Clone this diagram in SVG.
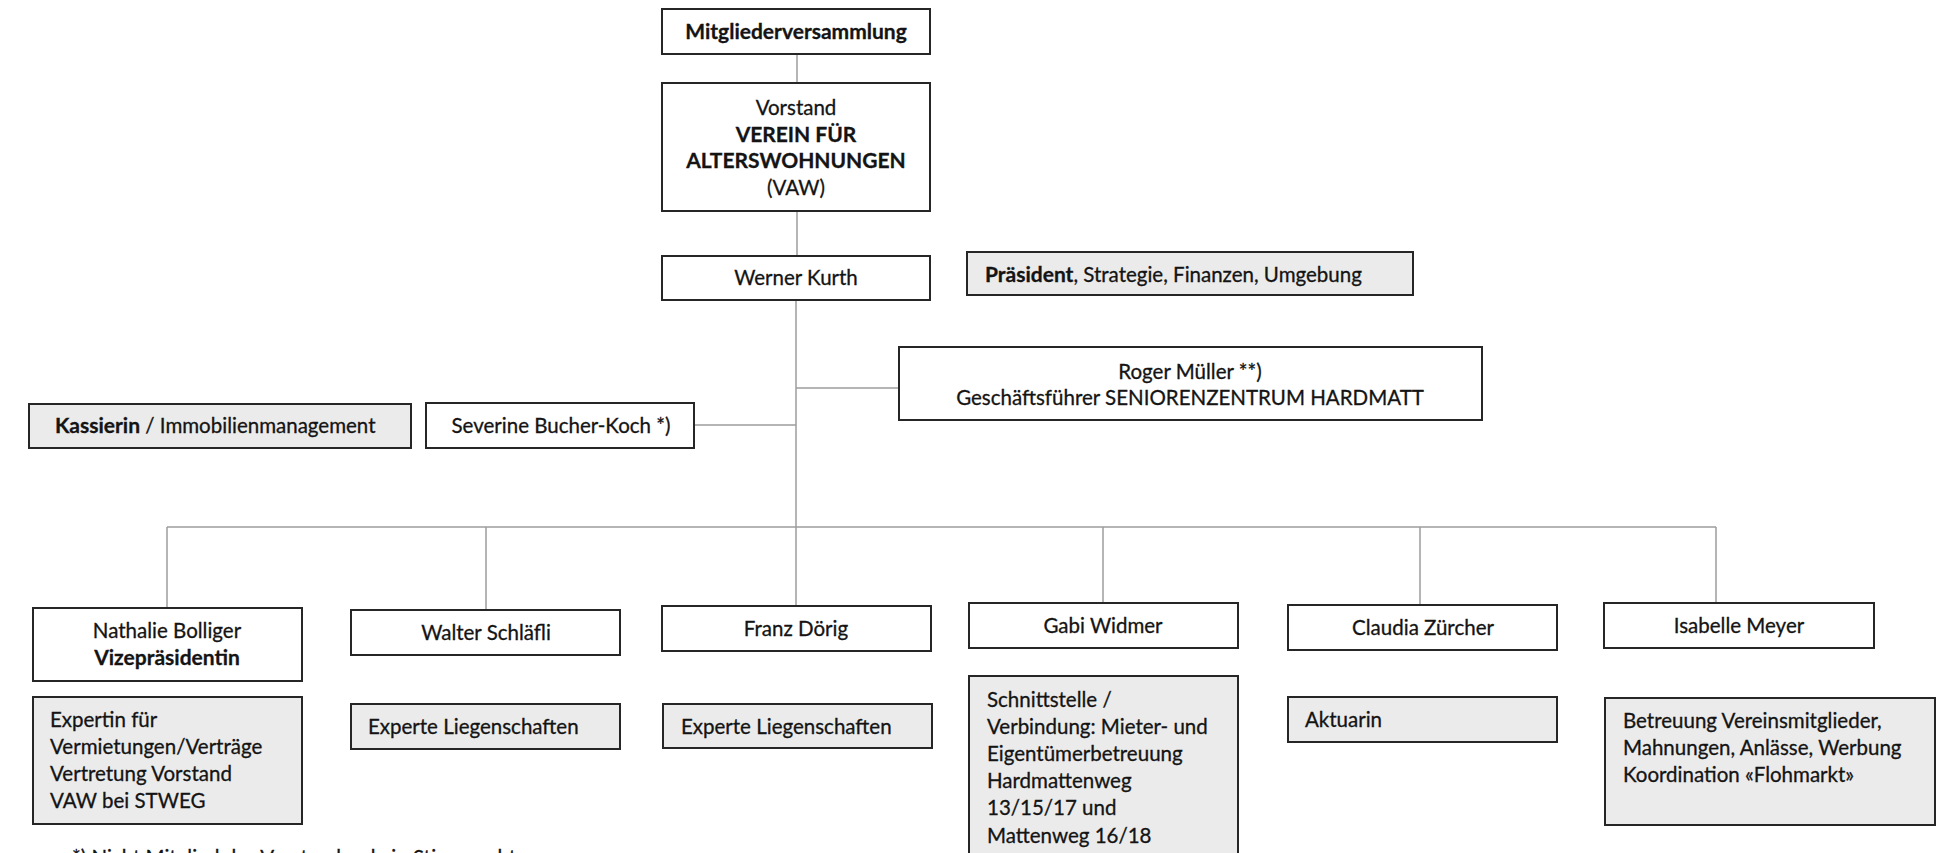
<svg xmlns="http://www.w3.org/2000/svg" width="1937" height="853" viewBox="0 0 1937 853">
<style>
.bg{fill:#fff}
.box{fill:#fff;stroke:#262626;stroke-width:2}
.grey{fill:#ebebeb;stroke:#262626;stroke-width:2}
.t{font-family:Lato,"Open Sans","Liberation Sans",sans-serif;font-size:20.5px;fill:#141414;stroke:#141414;stroke-width:0.3}
.c{text-anchor:middle}
.b{font-weight:bold;font-size:21px}
.conn line{stroke:#9c9c9c;stroke-width:1.5}
</style>
<rect class="bg" x="0" y="0" width="1937" height="853"/>
<g id="connectors" class="conn">
<line x1="797" y1="54" x2="797" y2="83"/>
<line x1="797" y1="211" x2="797" y2="256"/>
<line x1="796" y1="300" x2="796" y2="606"/>
<line x1="694" y1="425" x2="796" y2="425"/>
<line x1="796" y1="388" x2="899" y2="388"/>
<line x1="167" y1="527" x2="1716" y2="527"/>
<line x1="167" y1="527" x2="167" y2="608"/>
<line x1="486" y1="527" x2="486" y2="610"/>
<line x1="1103" y1="527" x2="1103" y2="603"/>
<line x1="1420" y1="527" x2="1420" y2="605"/>
<line x1="1716" y1="527" x2="1716" y2="603"/>
</g>
<g id="mitgliederversammlung">
<rect class="box" x="662" y="9" width="268" height="45"/>
<text class="t c b" x="796" y="39">Mitgliederversammlung</text>
</g>
<g id="vorstand">
<rect class="box" x="662" y="83" width="268" height="128"/>
<text class="t c" x="796" y="115">Vorstand</text>
<text class="t c b" x="796" y="142">VEREIN FÜR</text>
<text class="t c b" x="796" y="168">ALTERSWOHNUNGEN</text>
<text class="t c" x="796" y="195">(VAW)</text>
</g>
<g id="werner-kurth">
<rect class="box" x="662" y="256" width="268" height="44"/>
<text class="t c" x="796" y="285">Werner Kurth</text>
</g>
<g id="praesident">
<rect class="grey" x="967" y="252" width="446" height="43"/>
<text class="t" x="985" y="282"><tspan class="b">Präsident</tspan>, Strategie, Finanzen, Umgebung</text>
</g>
<g id="roger-mueller">
<rect class="box" x="899" y="347" width="583" height="73"/>
<text class="t c" x="1190" y="379">Roger Müller **)</text>
<text class="t c" x="1190" y="405">Geschäftsführer SENIORENZENTRUM HARDMATT</text>
</g>
<g id="kassierin">
<rect class="grey" x="29" y="404" width="382" height="44"/>
<text class="t" x="55" y="433"><tspan class="b">Kassierin</tspan> / Immobilienmanagement</text>
</g>
<g id="severine-bucher-koch">
<rect class="box" x="426" y="403" width="268" height="45"/>
<text class="t c" x="561" y="433">Severine Bucher-Koch *)</text>
</g>
<g id="nathalie-bolliger">
<rect class="box" x="33" y="608" width="269" height="73"/>
<text class="t c" x="167" y="638">Nathalie Bolliger</text>
<text class="t c b" x="167" y="665">Vizepräsidentin</text>
</g>
<g id="nathalie-aufgaben">
<rect class="grey" x="33" y="697" width="269" height="127"/>
<text class="t" x="50" y="727">Expertin für</text>
<text class="t" x="50" y="754">Vermietungen/Verträge</text>
<text class="t" x="50" y="781">Vertretung Vorstand</text>
<text class="t" x="50" y="808">VAW bei STWEG</text>
</g>
<g id="walter-schlaefli">
<rect class="box" x="351" y="610" width="269" height="45"/>
<text class="t c" x="486" y="640">Walter Schläfli</text>
</g>
<g id="walter-aufgaben">
<rect class="grey" x="351" y="704" width="269" height="45"/>
<text class="t" x="368" y="734">Experte Liegenschaften</text>
</g>
<g id="franz-doerig">
<rect class="box" x="662" y="606" width="269" height="45"/>
<text class="t c" x="796" y="636">Franz Dörig</text>
</g>
<g id="franz-aufgaben">
<rect class="grey" x="663" y="704" width="269" height="44"/>
<text class="t" x="681" y="734">Experte Liegenschaften</text>
</g>
<g id="gabi-widmer">
<rect class="box" x="969" y="603" width="269" height="45"/>
<text class="t c" x="1103" y="633">Gabi Widmer</text>
</g>
<g id="gabi-aufgaben">
<rect class="grey" x="969" y="676" width="269" height="190"/>
<text class="t" x="987" y="707">Schnittstelle /</text>
<text class="t" x="987" y="734">Verbindung: Mieter- und</text>
<text class="t" x="987" y="761">Eigentümerbetreuung</text>
<text class="t" x="987" y="788">Hardmattenweg</text>
<text class="t" x="987" y="815">13/15/17 und</text>
<text class="t" x="987" y="843">Mattenweg 16/18</text>
</g>
<g id="claudia-zuercher">
<rect class="box" x="1288" y="605" width="269" height="45"/>
<text class="t c" x="1423" y="635">Claudia Zürcher</text>
</g>
<g id="claudia-aufgaben">
<rect class="grey" x="1288" y="697" width="269" height="45"/>
<text class="t" x="1305" y="727">Aktuarin</text>
</g>
<g id="isabelle-meyer">
<rect class="box" x="1604" y="603" width="270" height="45"/>
<text class="t c" x="1739" y="633">Isabelle Meyer</text>
</g>
<g id="isabelle-aufgaben">
<rect class="grey" x="1605" y="698" width="330" height="127"/>
<text class="t" x="1623" y="728">Betreuung Vereinsmitglieder,</text>
<text class="t" x="1623" y="755">Mahnungen, Anlässe, Werbung</text>
<text class="t" x="1623" y="782">Koordination «Flohmarkt»</text>
</g>
<g id="footnote">
<text class="t" x="72" y="865">*) Nicht Mitglied des Vorstandes, kein Stimmrecht</text>
</g>
</svg>
